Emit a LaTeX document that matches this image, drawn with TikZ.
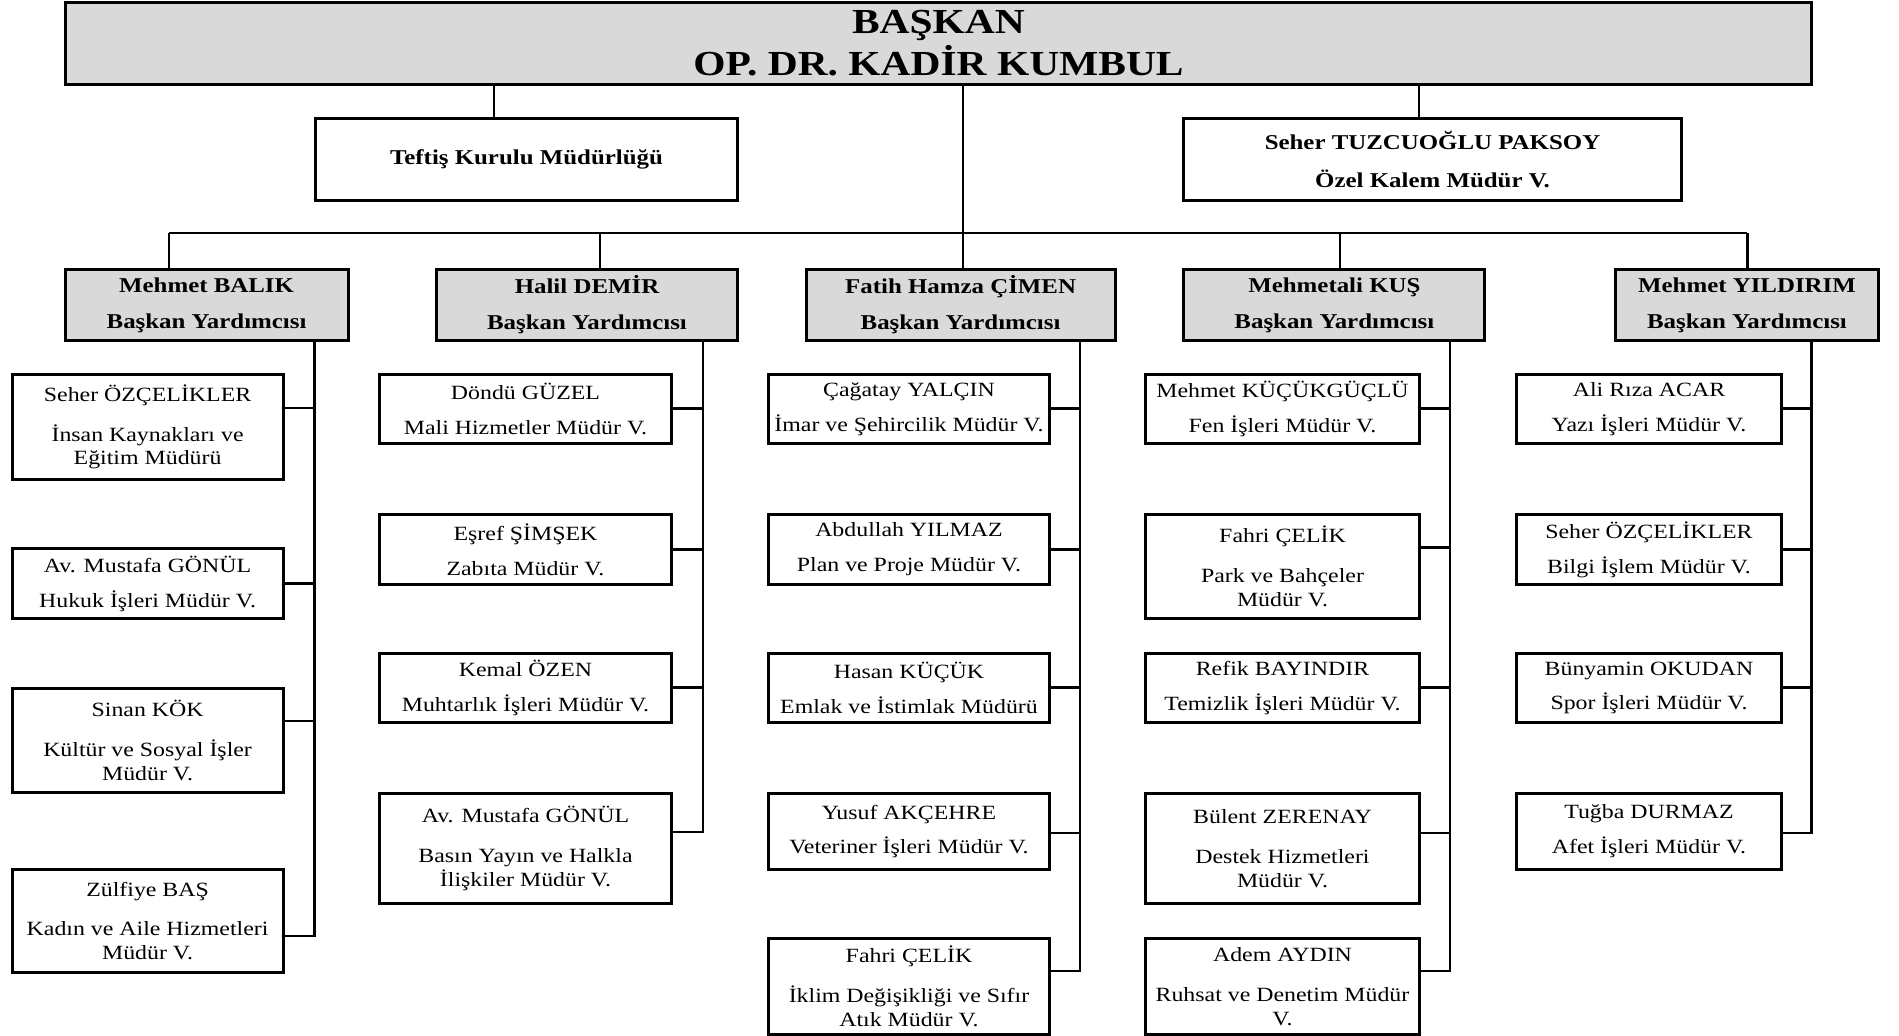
\documentclass[tikz,border=0pt]{standalone}
\usepackage{fontspec}
\setmainfont{Liberation Serif}[FakeStretch=1.18]
\usepackage{tikz}
\usetikzlibrary{calc}
\definecolor{boxgray}{HTML}{D9D9D9}

\tikzset{
    wh/.style 2 args={minimum width=#1mm, minimum height=#2mm},
    chief/.style={draw, fill=boxgray, line width=0.85pt, inner sep=0pt, align=center, anchor=north west, font=\bfseries\fontsize{10pt}{12pt}\selectfont},
    office/.style={draw, line width=0.85pt, inner sep=0pt, align=center, anchor=north west, font=\bfseries\fontsize{6pt}{7.2pt}\selectfont},
    deputy/.style={office, fill=boxgray},
    unit/.style={draw, line width=0.85pt, inner sep=0pt, align=center, anchor=north west, font=\fontsize{5.75pt}{6.8pt}\selectfont},
    link/.style={line width=0.85pt},
}

\begin{document}
\begin{tikzpicture}[x=0.1mm, y=-0.1mm]
    \path[use as bounding box, fill=white] (0,0) rectangle (1899,1036);

    \node[chief, wh={174.6}{8.2}] (baskan) at (64,1) {BAŞKAN\\OP. DR. KADİR KUMBUL};
    \node[office, wh={42.2}{8.2}] (teftis) at (314,117) {Teftiş Kurulu Müdürlüğü};
    \node[office, wh={49.8}{8.2}] (ozel) at (1182,117) {Seher TUZCUOĞLU PAKSOY\\[3.4pt]Özel Kalem Müdür V.};

    \node[deputy, wh={28.3}{7.1}] (balik) at (63.6,268) {Mehmet BALIK\\[3pt]Başkan Yardımcısı};
    \node[deputy, wh={30.1}{7.1}] (demir) at (435,268) {Halil DEMİR\\[3pt]Başkan Yardımcısı};
    \node[deputy, wh={30.9}{7.1}] (cimen) at (804.6,268) {Fatih Hamza ÇİMEN\\[3pt]Başkan Yardımcısı};
    \node[deputy, wh={30.1}{7.1}] (kus) at (1182.4,268) {Mehmetali KUŞ\\[3pt]Başkan Yardımcısı};
    \node[deputy, wh={26.3}{7.1}] (yildirim) at (1614,268) {Mehmet YILDIRIM\\[3pt]Başkan Yardımcısı};

    \node[unit, wh={27.1}{10.5}] (b1) at (10.6,373) {Seher ÖZÇELİKLER\\[4.5pt]İnsan Kaynakları ve\\Eğitim Müdürü};
    \node[unit, wh={27.1}{7.0}] (b2) at (10.6,547.5) {Av. Mustafa GÖNÜL\\[3.1pt]Hukuk İşleri Müdür V.};
    \node[unit, wh={27.1}{10.4}] (b3) at (10.6,687) {Sinan KÖK\\[4.5pt]Kültür ve Sosyal İşler\\Müdür V.};
    \node[unit, wh={27.1}{10.3}] (b4) at (10.6,868) {Zülfiye BAŞ\\[4.5pt]Kadın ve Aile Hizmetleri\\Müdür V.};

    \node[unit, wh={29.2}{6.9}] (d1) at (378,373) {Döndü GÜZEL\\[3.1pt]Mali Hizmetler Müdür V.};
    \node[unit, wh={29.2}{7.0}] (d2) at (378,513) {Eşref ŞİMŞEK\\[3.1pt]Zabıta Müdür V.};
    \node[unit, wh={29.2}{6.9}] (d3) at (378,652) {Kemal ÖZEN\\[3.1pt]Muhtarlık İşleri Müdür V.};
    \node[unit, wh={29.2}{11.0}] (d4) at (378,792) {Av. Mustafa GÖNÜL\\[4.5pt]Basın Yayın ve Halkla\\İlişkiler Müdür V.};

    \node[unit, wh={28.1}{6.9}] (c1) at (767,373) {Çağatay YALÇIN\\[3.1pt]İmar ve Şehircilik Müdür V.};
    \node[unit, wh={28.1}{7.0}] (c2) at (767,513) {Abdullah YILMAZ\\[3.1pt]Plan ve Proje Müdür V.};
    \node[unit, wh={28.1}{6.9}] (c3) at (767,652) {Hasan KÜÇÜK\\[3.1pt]Emlak ve İstimlak Müdürü};
    \node[unit, wh={28.1}{7.6}] (c4) at (767,792) {Yusuf AKÇEHRE\\[3.1pt]Veteriner İşleri Müdür V.};
    \node[unit, wh={28.1}{9.6}] (c5) at (767,937) {Fahri ÇELİK\\[4.5pt]İklim Değişikliği ve Sıfır\\Atık Müdür V.};

    \node[unit, wh={27.4}{6.9}] (k1) at (1144,373) {Mehmet KÜÇÜKGÜÇLÜ\\[3.1pt]Fen İşleri Müdür V.};
    \node[unit, wh={27.4}{10.4}] (k2) at (1144,513) {Fahri ÇELİK\\[4.5pt]Park ve Bahçeler\\Müdür V.};
    \node[unit, wh={27.4}{6.9}] (k3) at (1144,652) {Refik BAYINDIR\\[3.1pt]Temizlik İşleri Müdür V.};
    \node[unit, wh={27.4}{11.0}] (k4) at (1144,792) {Bülent ZERENAY\\[4.5pt]Destek Hizmetleri\\Müdür V.};
    \node[unit, wh={27.4}{9.6}] (k5) at (1144,937) {Adem AYDIN\\[4.5pt]Ruhsat ve Denetim Müdür\\V.};

    \node[unit, wh={26.5}{6.9}] (y1) at (1515,373) {Ali Rıza ACAR\\[3.1pt]Yazı İşleri Müdür V.};
    \node[unit, wh={26.5}{7.0}] (y2) at (1515,513) {Seher ÖZÇELİKLER\\[3.1pt]Bilgi İşlem Müdür V.};
    \node[unit, wh={26.5}{6.9}] (y3) at (1515,652) {Bünyamin OKUDAN\\[3.1pt]Spor İşleri Müdür V.};
    \node[unit, wh={26.5}{7.6}] (y4) at (1515,792) {Tuğba DURMAZ\\[3.1pt]Afet İşleri Müdür V.};

    % junctions on the lines
    \coordinate (tj) at (494,83);
    \coordinate (oj) at (1419,83);
    \coordinate (v1) at (169,233);
    \coordinate (v2) at (600,233);
    \coordinate (v3) at (963,233);
    \coordinate (v4) at (1340,233);
    \coordinate (v5) at (1747,233);
    \coordinate (tb) at (314.5,339);
    \coordinate (td) at (703,339);
    \coordinate (tc) at (1080,339);
    \coordinate (tk) at (1450,339);
    \coordinate (ty) at (1811,339);

    \draw[link]
        (tj) -- (tj |- teftis.north)
        (oj) -- (oj |- ozel.north)
        (baskan.south -| v3) -- (cimen.north -| v3)
        (v1) -- (v5)
        (v1) -- (v1 |- balik.north)
        (v2) -- (v2 |- demir.north)
        (v4) -- (v4 |- kus.north)
        (v5) -- (v5 |- yildirim.north)
        ;

    \draw[link]
        ($(b1.north east)+(0,35)$) -| (tb)
        (b2.east) -| (tb)
        ($(b3.north east)+(0,34)$) -| (tb)
        ($(b4.north east)+(0,68)$) -| (tb)
        (d1.east) -| (td)
        (d2.east) -| (td)
        (d3.east) -| (td)
        ($(d4.north east)+(0,40)$) -| (td)
        (c1.east) -| (tc)
        (c2.east) -| (tc)
        (c3.east) -| (tc)
        ($(c4.north east)+(0,41)$) -| (tc)
        ($(c5.north east)+(0,34)$) -| (tc)
        (k1.east) -| (tk)
        ($(k2.north east)+(0,34.5)$) -| (tk)
        (k3.east) -| (tk)
        ($(k4.north east)+(0,41)$) -| (tk)
        ($(k5.north east)+(0,34)$) -| (tk)
        (y1.east) -| (ty)
        (y2.east) -| (ty)
        (y3.east) -| (ty)
        ($(y4.north east)+(0,41)$) -| (ty)
        ;
\end{tikzpicture}
\end{document}
